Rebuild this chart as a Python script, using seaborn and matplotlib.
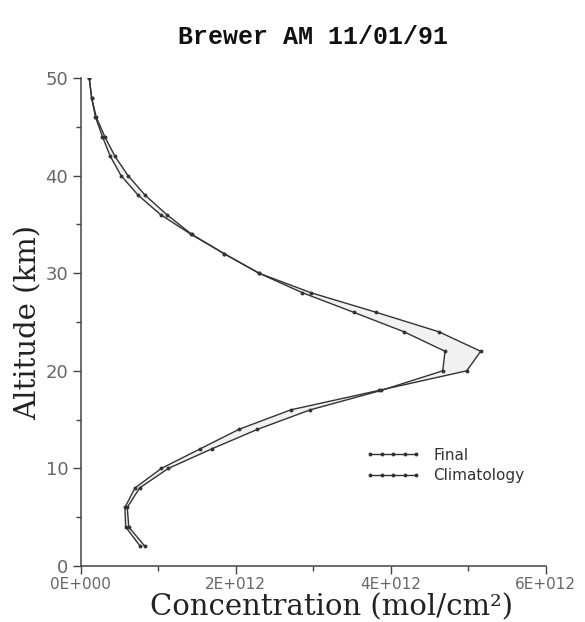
import numpy as np
import pandas as pd
import matplotlib
matplotlib.use("Agg")
import matplotlib.pyplot as plt
from matplotlib.ticker import MultipleLocator, FixedLocator
import seaborn as sns

# Ozone number-density profiles, altitude in km, concentration in 1E12 mol/cm^2
altitude = [2, 4, 6, 8, 10, 12, 14, 16, 18, 20, 22, 24, 26,
            28, 30, 32, 34, 36, 38, 40, 42, 44, 46, 48, 50]
final = [0.77, 0.58, 0.57, 0.70, 1.04, 1.54, 2.04, 2.71, 3.85, 4.98, 5.16, 4.62, 3.81,
         2.97, 2.30, 1.85, 1.42, 1.03, 0.74, 0.52, 0.38, 0.28, 0.19, 0.14, 0.11]
climatology = [0.83, 0.62, 0.60, 0.76, 1.13, 1.69, 2.28, 2.96, 3.88, 4.67, 4.70, 4.17, 3.52,
               2.86, 2.30, 1.85, 1.43, 1.11, 0.83, 0.61, 0.44, 0.31, 0.20, 0.14, 0.11]
series_names = ["Final", "Climatology"]
x_tick_labels = ["0E+000", "2E+012", "4E+012", "6E+012"]
scale = 1e12

df = pd.concat([
    pd.DataFrame({"alt": altitude, "conc": np.array(final) * scale, "series": "Final"}),
    pd.DataFrame({"alt": altitude, "conc": np.array(climatology) * scale, "series": "Climatology"}),
], ignore_index=True)

sns.set_style("ticks")
plt.rcParams["font.family"] = ["DejaVu Sans"]

fig = plt.figure(figsize=(5.85, 6.22), dpi=100)
ax = fig.add_axes([0.138, 0.090, 0.795, 0.7846])

# faint haze between the two profiles
ax.fill_betweenx(altitude, np.array(final) * scale, np.array(climatology) * scale,
                 color="#f1f1f1", lw=0, zorder=1)

sns.lineplot(data=df, x="conc", y="alt", hue="series", hue_order=series_names,
             palette={"Final": "#333333", "Climatology": "#333333"},
             sort=False, estimator=None, marker="o", markersize=2.8,
             markeredgewidth=0, linewidth=1.0, ax=ax, zorder=3)

ax.set_xlim(0, 6e12)
ax.set_ylim(0, 50)
for side in ("top", "right"):
    ax.spines[side].set_visible(False)
for side in ("left", "bottom"):
    ax.spines[side].set_color("#444444")
    ax.spines[side].set_linewidth(1.1)

ax.xaxis.set_major_locator(FixedLocator([0, 2e12, 4e12, 6e12]))
ax.set_xticklabels(x_tick_labels)
ax.xaxis.set_minor_locator(FixedLocator([1e12, 3e12, 5e12]))
ax.yaxis.set_major_locator(MultipleLocator(10))
ax.yaxis.set_minor_locator(MultipleLocator(5))

ax.tick_params(axis="both", which="major", length=6, width=1.0, color="#444444", direction="out")
ax.tick_params(axis="both", which="minor", length=3.5, width=1.0, color="#444444", direction="out")
ax.tick_params(axis="y", which="major", labelsize=13, labelcolor="#666666", pad=3)
ax.tick_params(axis="x", which="major", labelsize=11, labelcolor="#666666", pad=2)

ax.set_xlabel("Concentration (mol/cm²)", family="DejaVu Serif", fontsize=21,
              color="#222222", labelpad=-1)
ax.xaxis.set_label_coords(0.54, -0.055)
ax.set_ylabel("Altitude (km)", family="DejaVu Serif", fontsize=21,
              color="#222222", labelpad=2)

fig.text(0.535, 0.94, "Brewer AM 11/01/91", family="Liberation Mono", fontweight="bold",
         fontsize=18, ha="center", va="center", color="#111111")

handles, labels = ax.get_legend_handles_labels()
leg = ax.legend(handles, labels, loc="upper left", bbox_to_anchor=(0.60, 0.255),
                frameon=False, fontsize=11, handlelength=3.6, handletextpad=0.8,
                labelspacing=0.35, numpoints=5, borderaxespad=0)
for t in leg.get_texts():
    t.set_color("#333333")

fig.savefig("out.png", dpi=100, facecolor="white")
